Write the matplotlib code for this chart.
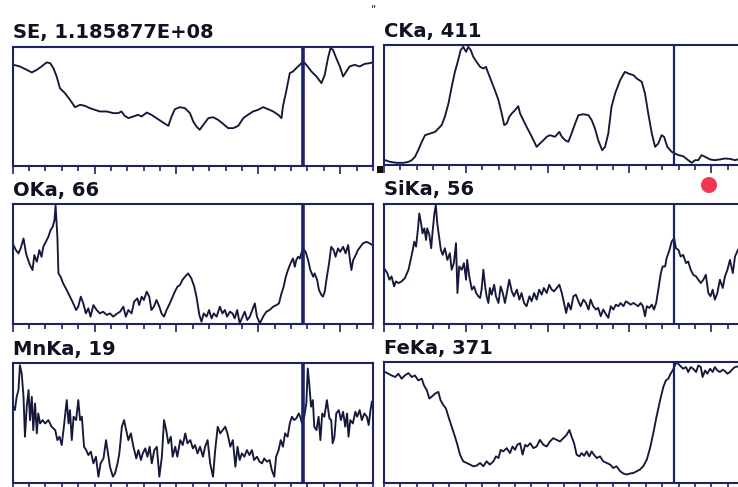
import numpy as np
import matplotlib.pyplot as plt
from matplotlib.ticker import MultipleLocator
from matplotlib.patches import Rectangle, Ellipse

# line-scan profiles, x = % of scan length, y = % of full scale
se_x = [0.2, 2.0, 3.9, 5.3, 6.7, 8.0, 9.4, 10.4, 11.3, 12.2, 13.1, 14.5, 15.9, 17.3, 18.7, 20.1, 21.4, 22.8,
        24.2, 26.1, 27.9, 29.3, 30.2, 31.1, 32.1, 33.5, 34.8, 35.8, 37.2, 38.5, 39.9, 41.3, 43.2, 44.1, 45.0,
        46.4, 47.8, 49.2, 50.1, 51.0, 51.9, 52.9, 54.3, 55.6, 57.0, 58.4, 59.8, 61.2, 62.6, 64.0, 65.3, 66.7,
        68.1, 69.5, 70.9, 72.3, 73.7, 74.6, 75.0, 76.0, 76.9, 77.8, 78.7, 79.7, 80.6, 81.5, 82.9, 84.3, 85.7,
        86.6, 87.5, 88.2, 88.9, 89.8, 90.8, 91.7, 92.6, 93.5, 94.9, 96.3, 97.7, 99.1, 99.8]
se_y = [84.6, 83.2, 80.4, 78.2, 80.4, 83.2, 86.6, 86.0, 81.8, 74.8, 65.0, 60.8, 55.2, 49.0, 51.0, 50.1, 48.2, 46.8,
        45.4, 45.4, 44.0, 44.0, 45.4, 41.7, 39.8, 41.2, 42.6, 41.2, 44.5, 42.6, 39.8, 37.0, 33.3, 41.2, 47.3,
        49.0, 48.2, 44.0, 37.0, 32.8, 30.0, 34.2, 39.8, 40.6, 38.4, 35.0, 31.4, 31.4, 33.3, 39.8, 42.6, 45.4,
        46.8, 49.0, 47.3, 45.4, 42.6, 39.8, 49.6, 63.6, 77.6, 79.0, 81.8, 84.6, 87.4, 84.6, 79.0, 74.8, 69.2,
        76.2, 90.2, 98.6, 97.2, 90.2, 83.2, 74.8, 79.0, 83.2, 84.6, 83.2, 85.4, 86.0, 86.6]

c_x = [0.3, 1.7, 3.5, 5.4, 6.8, 7.7, 8.6, 9.5, 10.5, 11.4, 12.8, 14.2, 15.1, 16.0, 16.9, 17.9, 18.8, 19.7, 20.6,
       21.3, 22.0, 22.8, 23.4, 24.1, 24.8, 25.7, 26.7, 27.6, 28.3, 29.0, 29.9, 30.8, 31.8, 32.7, 33.4, 34.1,
       34.8, 35.5, 36.4, 37.3, 37.8, 38.7, 39.6, 40.6, 41.5, 42.4, 43.3, 44.3, 45.2, 46.1, 47.5, 48.7, 49.4,
       50.3, 51.2, 52.1, 53.1, 54.0, 55.4, 56.8, 57.7, 58.6, 59.5, 60.6, 61.4, 62.3, 63.2, 64.2, 65.6, 66.9,
       67.9, 69.3, 70.2, 71.6, 72.5, 73.4, 74.4, 75.3, 76.2, 77.1, 77.8, 78.7, 79.9, 80.8, 81.8, 83.1, 84.5,
       85.5, 86.4, 87.3, 88.2, 89.2, 90.6, 91.9, 93.3, 94.7, 96.1, 97.5, 98.3]
c_y = [3.6, 2.2, 1.4, 1.4, 2.2, 3.6, 6.4, 11.9, 18.9, 24.4, 25.8, 27.2, 30.0, 32.8, 39.7, 50.8, 64.7, 77.2, 86.9,
       95.3, 98.1, 93.9, 98.1, 95.3, 89.7, 85.6, 81.4, 80.0, 81.4, 75.8, 68.9, 61.9, 53.6, 42.5, 32.8, 34.2,
       39.7, 42.5, 45.3, 48.6, 42.5, 36.9, 31.4, 25.8, 20.3, 14.7, 17.5, 20.3, 23.1, 24.4, 23.1, 27.2, 23.1,
       20.3, 18.9, 25.8, 34.2, 41.1, 41.9, 41.1, 36.9, 30.0, 20.3, 11.9, 14.7, 25.8, 48.1, 59.2, 70.3, 77.2,
       75.8, 74.4, 71.7, 68.9, 59.2, 42.5, 25.8, 14.7, 17.5, 24.4, 23.1, 14.7, 10.6, 9.2, 7.8, 6.9, 3.6,
       1.4, 3.6, 3.6, 7.8, 6.4, 4.2, 3.6, 4.2, 5.0, 4.7, 3.6, 4.2]

o_x = [0.2, 0.9, 1.6, 2.2, 3.0, 3.7, 4.3, 4.8, 5.5, 6.0, 6.7, 7.4, 8.0, 8.5, 9.2, 9.9, 10.5, 11.1, 11.6, 11.9,
       12.4, 12.7, 13.3, 14.0, 15.0, 15.9, 16.8, 17.6, 18.2, 18.9, 19.6, 20.3, 21.0, 21.6, 22.4, 23.3, 24.2,
       25.1, 26.1, 27.0, 27.9, 28.8, 29.8, 30.7, 31.4, 32.1, 33.0, 33.7, 34.6, 35.1, 35.8, 36.4, 37.2, 37.9,
       38.5, 39.2, 39.9, 40.7, 41.3, 42.0, 42.7, 43.6, 44.4, 45.0, 45.7, 46.4, 47.1, 47.8, 48.7, 49.6, 50.4,
       51.0, 51.8, 52.4, 53.0, 53.8, 54.5, 55.2, 55.8, 56.6, 57.5, 58.2, 58.9, 59.5, 60.3, 61.0, 61.6, 62.3,
       63.0, 63.8, 64.4, 65.1, 65.8, 66.5, 67.2, 67.8, 68.6, 69.5, 70.4, 71.3, 72.3, 73.2, 73.9, 74.6, 75.2,
       75.8, 76.4, 77.1, 77.8, 78.3, 78.7, 79.2, 79.7, 80.1, 80.6, 81.3, 82.0, 82.6, 83.4, 83.8, 84.5, 85.0,
       85.7, 86.1, 86.6, 87.2, 87.8, 88.4, 89.1, 89.6, 90.3, 90.9, 91.7, 92.4, 93.1, 93.5, 94.0, 94.5, 95.2,
       95.8, 96.5, 97.2, 98.2, 99.1, 99.8]
o_y = [65.5, 61.3, 58.6, 62.7, 71.0, 58.6, 53.0, 48.9, 44.8, 57.2, 51.7, 61.3, 55.8, 64.1, 68.2, 72.4, 77.9, 80.7,
       86.2, 98.6, 72.4, 42.0, 39.2, 33.7, 28.2, 22.7, 17.1, 11.6, 14.4, 22.7, 17.1, 8.8, 13.0, 6.1, 15.7, 11.6,
       8.8, 10.2, 7.5, 8.8, 6.1, 8.3, 10.2, 14.4, 6.1, 11.6, 8.8, 18.5, 21.3, 15.7, 22.7, 19.9, 26.8, 22.7,
       11.6, 14.4, 19.9, 14.4, 8.8, 6.1, 11.6, 17.1, 22.7, 26.8, 30.9, 32.3, 36.5, 39.2, 42.0, 37.8, 30.9,
       22.7, 7.5, 1.9, 8.8, 6.1, 11.6, 4.7, 8.8, 6.1, 14.4, 8.8, 11.6, 6.1, 10.2, 8.8, 4.7, 11.6,
       0.6, 6.1, 10.2, 3.3, 6.1, 11.6, 17.1, 6.1, 0.6, 6.1, 10.2, 11.6, 14.4, 15.7, 17.1, 25.4, 30.9,
       39.2, 44.8, 50.3, 54.4, 47.5, 53.0, 55.8, 54.4, 58.6, 62.7, 59.9, 53.0, 44.8, 39.2, 42.0, 36.5, 28.2,
       24.0, 22.7, 26.8, 39.2, 50.3, 64.1, 61.3, 55.8, 62.7, 59.9, 64.1, 58.6, 65.5, 55.8, 44.8, 53.0, 57.2,
       61.3, 64.1, 66.9, 68.2, 66.9, 65.5]

si_x = [0.3, 0.9, 1.5, 2.1, 2.8, 3.3, 4.0, 4.9, 5.8, 6.8, 7.4, 8.0, 8.4, 8.9, 9.4, 9.8, 10.3, 10.7, 11.2, 11.7,
        12.0, 12.6, 13.1, 13.5, 14.0, 14.4, 14.8, 15.3, 15.8, 16.3, 16.9, 17.6, 18.3, 18.8, 19.4, 20.0, 20.4,
        20.9, 21.6, 22.2, 22.8, 23.1, 23.7, 24.4, 25.0, 25.6, 26.2, 26.7, 27.1, 27.6, 28.1, 28.5, 29.0, 29.4,
        29.9, 30.6, 31.1, 31.8, 32.4, 33.0, 33.6, 34.3, 34.8, 35.5, 36.1, 36.9, 37.6, 38.2, 38.9, 39.6, 40.4,
        41.0, 41.7, 42.4, 43.1, 43.8, 44.4, 45.2, 45.9, 46.6, 47.2, 48.0, 48.7, 49.4, 50.0, 50.6, 51.2, 51.9,
        52.6, 53.3, 54.0, 54.6, 55.4, 56.1, 56.8, 57.4, 58.1, 58.9, 59.5, 60.2, 60.9, 61.7, 62.3, 63.0, 63.7,
        64.4, 65.1, 65.7, 66.5, 67.2, 67.9, 68.5, 69.3, 70.0, 70.6, 71.3, 71.9, 72.5, 73.0, 73.7, 74.4, 75.0,
        75.6, 76.2, 76.9, 77.4, 78.1, 78.5, 79.3, 79.9, 80.6, 81.1, 81.8, 82.4, 83.1, 83.9, 84.5, 85.2, 85.9,
        86.7, 87.3, 88.0, 88.7, 89.4, 90.1, 90.7, 91.3, 91.9, 92.6, 93.3, 94.1, 94.7, 95.4, 96.1, 96.9, 97.5,
        98.3]
si_y = [44.8, 42.0, 36.5, 39.2, 30.9, 35.1, 33.7, 35.1, 37.8, 44.8, 53.0, 61.3, 68.2, 64.1, 77.9, 91.7, 83.4, 75.1,
        79.3, 69.6, 79.3, 73.8, 62.7, 76.5, 91.7, 98.6, 83.4, 72.4, 61.3, 57.2, 62.7, 53.0, 58.6, 44.8, 50.3,
        66.9, 25.4, 47.5, 44.8, 50.3, 36.5, 53.0, 39.2, 28.2, 30.9, 25.4, 22.7, 21.3, 28.2, 44.8, 30.9, 22.7,
        17.1, 29.6, 24.0, 32.3, 22.7, 17.1, 30.9, 25.4, 17.1, 28.2, 36.5, 26.8, 22.7, 28.2, 19.9, 25.4, 17.1,
        14.4, 22.7, 18.5, 25.4, 19.9, 28.2, 24.0, 29.6, 25.4, 32.3, 28.2, 26.8, 29.6, 32.3, 25.4, 17.1, 8.8,
        17.1, 11.6, 22.7, 24.0, 18.5, 14.4, 19.9, 17.1, 11.6, 19.9, 14.4, 11.6, 13.0, 6.1, 11.6, 7.5, 4.7,
        14.4, 11.6, 15.7, 14.4, 17.1, 14.4, 18.5, 17.1, 15.7, 17.1, 15.7, 14.4, 17.1, 14.4, 6.1, 14.4, 13.0,
        15.7, 11.6, 17.1, 28.2, 42.0, 47.5, 47.5, 54.4, 61.3, 68.2, 71.0, 62.7, 61.3, 55.8, 57.2, 50.3, 51.7,
        44.8, 40.6, 39.2, 36.5, 33.7, 36.5, 40.6, 25.4, 22.7, 28.2, 19.9, 25.4, 36.5, 29.6, 39.2, 44.8, 53.0,
        42.0, 55.8, 61.3]

mn_x = [0.2, 0.6, 1.1, 1.6, 2.0, 2.5, 3.0, 3.4, 3.9, 4.4, 4.8, 5.3, 5.7, 6.2, 6.7, 7.1, 7.6, 8.3, 9.0, 9.9,
        10.8, 11.8, 12.4, 13.0, 13.6, 14.1, 14.5, 15.0, 15.5, 15.9, 16.4, 16.9, 17.6, 18.2, 18.7, 19.2, 19.8,
        20.4, 21.0, 21.7, 22.4, 23.1, 23.8, 24.4, 25.2, 25.9, 26.6, 27.0, 27.8, 28.4, 29.1, 29.6, 30.3, 30.9,
        31.5, 32.1, 32.8, 33.5, 34.3, 34.9, 35.6, 36.1, 36.8, 37.4, 38.0, 38.6, 39.3, 40.0, 40.7, 41.4, 42.0,
        42.6, 43.2, 43.9, 44.4, 45.1, 45.7, 46.5, 47.2, 47.9, 48.5, 49.3, 50.0, 50.6, 51.3, 52.0, 52.8, 53.4,
        54.1, 54.8, 55.6, 56.2, 56.9, 57.6, 58.3, 59.0, 59.6, 60.4, 61.1, 61.8, 62.4, 63.0, 63.6, 64.3, 65.0,
        65.7, 66.4, 67.0, 67.8, 68.5, 69.2, 69.8, 70.6, 71.3, 71.9, 72.6, 73.1, 73.8, 74.4, 75.0, 75.6, 76.3,
        76.9, 77.5, 78.1, 78.7, 79.4, 79.8, 80.3, 80.6, 80.9, 81.5, 81.9, 82.3, 82.8, 83.3, 83.7, 84.3, 84.9,
        85.4, 85.9, 86.5, 87.2, 87.9, 88.4, 88.8, 89.3, 89.8, 90.5, 91.1, 91.7, 92.3, 92.8, 93.2, 93.7, 94.4,
        95.1, 95.6, 96.3, 96.9, 97.6, 98.3, 98.8, 99.3, 99.7]
mn_y = [63.3, 60.5, 71.5, 77.1, 97.8, 90.9, 71.5, 38.4, 63.3, 77.1, 52.2, 71.5, 43.9, 66.0, 41.2, 57.7, 49.4, 52.2,
        49.4, 52.2, 46.7, 43.9, 35.6, 38.4, 31.5, 43.9, 55.0, 68.8, 49.4, 60.5, 35.6, 55.0, 52.2, 68.8, 52.2,
        55.0, 30.1, 27.3, 23.2, 26.0, 16.3, 21.8, 5.2, 16.3, 20.4, 35.6, 21.8, 13.5, 5.2, 8.0, 16.3, 24.6,
        46.7, 52.2, 43.9, 35.6, 41.2, 30.1, 20.4, 27.3, 19.1, 24.6, 28.7, 21.8, 30.1, 16.3, 27.3, 30.1, 5.2,
        21.8, 52.2, 43.9, 32.9, 38.4, 21.8, 30.1, 21.8, 35.6, 31.5, 41.2, 32.9, 35.6, 28.7, 31.5, 24.6, 30.1,
        21.8, 30.1, 35.6, 16.3, 5.2, 27.3, 46.7, 41.2, 43.9, 46.7, 41.2, 30.1, 35.6, 13.5, 30.1, 19.1, 24.6,
        21.8, 27.3, 23.2, 27.3, 19.1, 21.8, 17.7, 16.3, 20.4, 17.7, 19.1, 10.8, 5.2, 21.8, 27.3, 35.6, 30.1,
        41.2, 38.4, 49.4, 55.0, 52.2, 53.6, 57.7, 55.0, 49.4, 52.2, 55.0, 66.0, 95.0, 82.6, 63.3, 68.8, 46.7,
        43.9, 55.0, 35.6, 57.7, 55.0, 68.8, 53.6, 52.2, 32.9, 38.4, 57.7, 60.5, 52.2, 59.1, 46.7, 57.7, 38.4,
        52.2, 49.4, 59.1, 55.0, 60.5, 52.2, 57.7, 55.0, 48.1, 60.5, 67.4]

fe_x = [0.3, 1.2, 2.1, 3.1, 4.0, 4.9, 5.8, 6.8, 7.7, 8.6, 9.5, 10.5, 11.1, 11.9, 12.6, 13.2, 14.2, 15.1, 15.7,
        16.5, 17.2, 17.9, 18.8, 19.7, 20.4, 21.1, 22.0, 23.0, 23.9, 24.8, 25.7, 26.7, 27.6, 28.5, 29.4, 30.4,
        31.1, 31.8, 32.4, 33.1, 34.1, 35.0, 35.7, 36.4, 37.0, 37.8, 38.5, 39.2, 39.8, 40.6, 41.5, 42.4, 43.3,
        44.3, 45.2, 46.1, 47.0, 48.0, 48.9, 49.8, 50.7, 51.5, 52.1, 52.8, 53.5, 54.3, 54.9, 55.6, 56.3, 57.0,
        57.7, 58.3, 59.1, 60.0, 60.9, 61.9, 62.8, 63.7, 64.6, 65.6, 66.5, 67.4, 68.3, 69.3, 70.2, 71.1, 72.0,
        73.0, 73.9, 74.8, 75.7, 76.7, 77.6, 78.3, 79.0, 79.6, 80.2, 80.8, 81.3, 82.2, 83.1, 83.9, 84.5, 85.2,
        85.9, 86.7, 87.3, 88.0, 88.5, 89.2, 89.8, 90.6, 91.3, 91.9, 92.6, 93.3, 94.1, 94.7, 95.4, 96.1, 96.9,
        97.5, 98.3]
fe_y = [91.3, 89.9, 88.5, 87.2, 89.9, 85.8, 88.5, 90.4, 87.2, 88.5, 84.4, 85.8, 80.3, 76.2, 69.4, 70.8, 73.5, 74.9,
        68.0, 63.9, 61.2, 54.4, 46.2, 38.0, 31.1, 23.0, 17.5, 16.1, 14.8, 13.4, 13.9, 16.1, 13.4, 17.5, 14.8,
        17.5, 21.6, 20.2, 27.0, 25.7, 28.4, 24.3, 29.8, 27.0, 31.1, 32.5, 23.0, 31.1, 29.8, 32.5, 28.4, 29.8,
        35.2, 31.1, 29.8, 33.9, 36.6, 35.2, 33.9, 36.6, 39.3, 43.4, 38.0, 32.5, 23.0, 21.6, 24.3, 22.1, 25.7,
        21.6, 25.7, 23.0, 20.2, 21.6, 17.5, 16.1, 14.8, 12.0, 13.4, 9.3, 7.4, 6.6, 7.4, 7.9, 9.3, 10.7, 13.4,
        18.9, 28.4, 40.7, 54.4, 68.0, 79.0, 84.4, 85.8, 89.9, 92.6, 96.7, 99.5, 96.7, 94.0, 95.4, 91.3, 95.4,
        94.0, 91.3, 96.7, 95.4, 87.2, 92.6, 89.9, 94.0, 91.3, 95.4, 92.6, 91.3, 93.2, 92.1, 89.9, 91.3, 94.0,
        95.4, 95.9]

titles = ["SE, 1.185877E+08", "CKa, 411", "OKa, 66", "SiKa, 56", "MnKa, 19", "FeKa, 371"]
marker_pos = 80.6

W, H = 738, 487
NAVY = "#1c2266"
INK = "#16183a"

fig = plt.figure(figsize=(W / 100, H / 100), dpi=100)

# panel boxes in pixels: (left, top, right, bottom), title baseline
boxes = [
    ((12.7, 46.5, 373, 165.5), 38),
    ((384, 44.5, 744, 164.5), 37),
    ((12.7, 203.5, 373, 324), 196),
    ((384, 203.5, 744, 323.5), 195),
    ((12.7, 362.5, 373, 483), 355),
    ((384, 361.5, 744, 482.5), 354),
]
data = [(se_x, se_y), (c_x, c_y), (o_x, o_y), (si_x, si_y), (mn_x, mn_y), (fe_x, fe_y)]

for i, (((l, t, r, b), ty), (xs, ys), title) in enumerate(zip(boxes, data, titles)):
    ax = fig.add_axes([l / W, 1 - b / H, (r - l) / W, (b - t) / H])
    ax.plot(xs, ys, color=INK, lw=1.35)
    left_col = (i % 2 == 0)
    ax.axvline(marker_pos, color=NAVY, lw=2.6 if left_col else 1.6)
    ax.set_xlim(0, 100)
    ax.set_ylim(0, 100)
    for s in ax.spines.values():
        s.set_color(NAVY)
        s.set_linewidth(1.5)
    ax.xaxis.set_major_locator(MultipleLocator(100 / 22 * 5))
    ax.xaxis.set_minor_locator(MultipleLocator(100 / 22))
    ax.tick_params(axis="x", which="major", length=5.5, width=1.2, color=NAVY, labelbottom=False, direction="out")
    ax.tick_params(axis="x", which="minor", length=3.5, width=1.2, color=NAVY, direction="out")
    ax.set_yticks([])
    fig.text(l / W, 1 - ty / H, title, fontsize=14, fontweight="bold", color="#111122",
             ha="left", va="baseline", family="DejaVu Sans")

# small black square between upper panels
fig.patches.append(Rectangle((377 / W, 1 - 173 / H), 6 / W, 7 / H, transform=fig.transFigure,
                             facecolor="#111111", edgecolor="none"))
# red indicator dot
fig.patches.append(Ellipse((709 / W, 1 - 185 / H), 16 / W, 16 / H, transform=fig.transFigure,
                           facecolor="#f2364f", edgecolor="none"))
fig.text(373 / W, 1 - 7 / H, "„", fontsize=7, color="#111111", ha="center", va="baseline")

fig.savefig("out.png", dpi=100)
